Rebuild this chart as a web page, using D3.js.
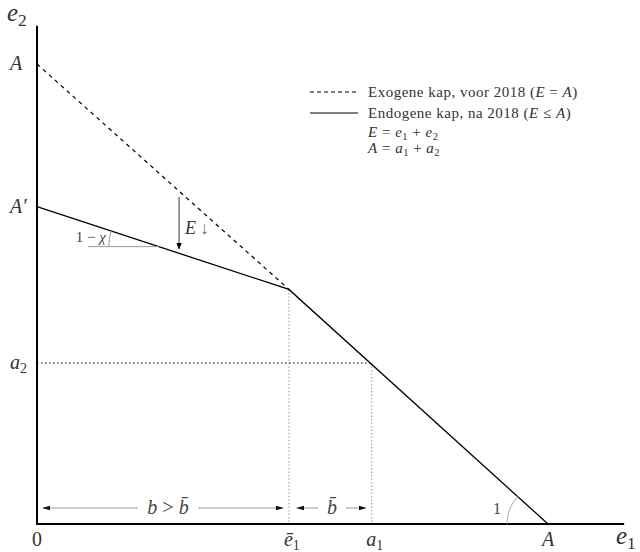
<!DOCTYPE html>
<html>
<head>
<meta charset="utf-8">
<script src="https://cdn.jsdelivr.net/npm/d3@7"></script>
<style>
  body { margin: 0; background: #fff; }
  svg text { font-family: "Liberation Serif", "DejaVu Serif", serif; }
</style>
</head>
<body>
<svg id="chart" width="640" height="552"></svg>
<script>
// data (units: A = 10)
var capA = 10;
var capAprime = 6.9;
var e1bar = 4.93;
var kinkY = 5.1;
var a1 = 6.55;
var a2 = 3.5;

var exoLine = [[0, capA], [e1bar, kinkY]];
var endoLine = [[0, capAprime], [e1bar, kinkY], [capA, 0]];

var xTickLabels = [
  {v: 0, main: "0", sub: "", italic: false},
  {v: e1bar, main: "ē", sub: "1", italic: true},
  {v: a1, main: "a", sub: "1", italic: true},
  {v: capA, main: "A", sub: "", italic: true}
];
var yTickLabels = [
  {v: capA, main: "A", sub: ""},
  {v: capAprime, main: "A′", sub: ""},
  {v: a2, main: "a", sub: "2"}
];

var svg = d3.select("#chart");

var x = d3.scaleLinear().domain([0, 10]).range([37, 548]);
var y = d3.scaleLinear().domain([0, 10]).range([524, 64]);
var xMax = 11.49, yMax = 10.83;

var line = d3.line()
  .x(function(d) { return x(d[0]); })
  .y(function(d) { return y(d[1]); });

// guide lines
svg.append("line")
  .attr("x1", x(e1bar)).attr("x2", x(e1bar))
  .attr("y1", y(kinkY)).attr("y2", y(0))
  .attr("stroke", "#999").attr("stroke-width", 1).attr("stroke-dasharray", "1.5,2");
svg.append("line")
  .attr("x1", x(a1)).attr("x2", x(a1))
  .attr("y1", y(a2)).attr("y2", y(0))
  .attr("stroke", "#999").attr("stroke-width", 1).attr("stroke-dasharray", "1.5,2");
svg.append("line")
  .attr("x1", x(0)).attr("x2", x(a1))
  .attr("y1", y(a2)).attr("y2", y(a2))
  .attr("stroke", "#000").attr("stroke-width", 1).attr("stroke-dasharray", "1.5,2.5");

// curves
svg.append("path").datum(exoLine)
  .attr("d", line).attr("fill", "none")
  .attr("stroke", "#000").attr("stroke-width", 1.2).attr("stroke-dasharray", "4,4");
svg.append("path").datum(endoLine)
  .attr("d", line).attr("fill", "none")
  .attr("stroke", "#000").attr("stroke-width", 1.3);

// axes
svg.append("line").attr("x1", x(0)).attr("x2", x(0)).attr("y1", y(0)).attr("y2", y(yMax))
  .attr("stroke", "#000").attr("stroke-width", 2);
svg.append("line").attr("x1", x(0) - 1).attr("x2", x(xMax)).attr("y1", y(0)).attr("y2", y(0))
  .attr("stroke", "#000").attr("stroke-width", 2);

// arrow markers
var defs = svg.append("defs");
defs.append("marker").attr("id", "headBlack")
  .attr("viewBox", "0 0 10 10").attr("refX", 9).attr("refY", 5)
  .attr("markerWidth", 7).attr("markerHeight", 7).attr("orient", "auto-start-reverse")
  .attr("markerUnits", "userSpaceOnUse")
  .append("path").attr("d", "M0,1 L10,5 L0,9 Z").attr("fill", "#000");
defs.append("marker").attr("id", "headGray")
  .attr("viewBox", "0 0 10 10").attr("refX", 9).attr("refY", 5)
  .attr("markerWidth", 8).attr("markerHeight", 8).attr("orient", "auto-start-reverse")
  .attr("markerUnits", "userSpaceOnUse")
  .append("path").attr("d", "M0,2 L10,5 L0,8 Z").attr("fill", "#111");

// E arrow
var eArrowX = 2.78;
svg.append("line")
  .attr("x1", x(eArrowX)).attr("x2", x(eArrowX))
  .attr("y1", y(7.11)).attr("y2", y(5.98))
  .attr("stroke", "#555").attr("stroke-width", 1.2)
  .attr("marker-end", "url(#headBlack)");
var eLab = svg.append("text").attr("x", x(eArrowX) + 6).attr("y", y(6.3)).attr("font-size", 18).attr("fill", "#333");
eLab.append("tspan").attr("font-style", "italic").text("E");
eLab.append("tspan").attr("dx", 4).attr("fill", "#777").text("↓");

// 1 - chi angle
var chiY = 6.03;
var chiX = (capAprime - chiY) / ((capAprime - kinkY) / e1bar);
svg.append("line")
  .attr("x1", x(1.0)).attr("x2", x(chiX))
  .attr("y1", y(chiY)).attr("y2", y(chiY))
  .attr("stroke", "#999").attr("stroke-width", 1);
var slopeAng = Math.atan2(y(kinkY) - y(capAprime), x(e1bar) - x(0));
var r1 = 50;
var cx1 = x(chiX), cy1 = y(chiY);
svg.append("path")
  .attr("d", "M" + (cx1 - r1) + "," + cy1 + " A" + r1 + "," + r1 + " 0 0,1 " +
    (cx1 - r1 * Math.cos(slopeAng)) + "," + (cy1 - r1 * Math.sin(slopeAng)))
  .attr("fill", "none").attr("stroke", "#999").attr("stroke-width", 1);
var chiLab = svg.append("text").attr("x", cx1 - r1 - 3).attr("y", cy1 - 5)
  .attr("text-anchor", "end").attr("font-size", 15).attr("fill", "#444");
chiLab.append("tspan").text("1 − ");
chiLab.append("tspan").attr("font-style", "italic").text("χ");

// angle 1 at A
var r2 = 41;
var cx2 = x(capA), cy2 = y(0);
var ang2 = Math.atan2(y(0) - y(kinkY), x(capA) - x(e1bar));
svg.append("path")
  .attr("d", "M" + (cx2 - r2) + "," + cy2 + " A" + r2 + "," + r2 + " 0 0,1 " +
    (cx2 - r2 * Math.cos(ang2)) + "," + (cy2 - r2 * Math.sin(ang2)))
  .attr("fill", "none").attr("stroke", "#aaa").attr("stroke-width", 1);
svg.append("text").attr("x", cx2 - r2 - 10).attr("y", cy2 - 10)
  .attr("text-anchor", "middle").attr("font-size", 16).attr("fill", "#444").text("1");

// b arrows
var bY = 508;
function bArrow(x0, x1, gap0, gap1) {
  svg.append("line").attr("x1", x0).attr("x2", gap0).attr("y1", bY).attr("y2", bY)
    .attr("stroke", "#999").attr("stroke-width", 1).attr("marker-start", "url(#headGray)");
  svg.append("line").attr("x1", gap1).attr("x2", x1).attr("y1", bY).attr("y2", bY)
    .attr("stroke", "#999").attr("stroke-width", 1).attr("marker-end", "url(#headGray)");
}
bArrow(x(0) + 6, x(e1bar) - 6, 138, 198);
bArrow(x(e1bar) + 8, x(a1) - 6, 318, 346);
var bLab1 = svg.append("text").attr("x", 168).attr("y", bY + 6)
  .attr("text-anchor", "middle").attr("font-size", 20).attr("fill", "#444");
bLab1.append("tspan").attr("font-style", "italic").text("b");
bLab1.append("tspan").text(" > ");
bLab1.append("tspan").attr("font-style", "italic").text("b̄");
svg.append("text").attr("x", 332).attr("y", bY + 6)
  .attr("text-anchor", "middle").attr("font-size", 20).attr("font-style", "italic")
  .attr("fill", "#444").text("b̄");

// tick labels
function subLabel(g, main, sub, size, italic) {
  var t = g.append("tspan").text(main);
  if (italic) t.attr("font-style", "italic");
  if (sub) g.append("tspan").attr("font-size", size * 0.7).attr("dy", size * 0.18).text(sub);
}
xTickLabels.forEach(function(d) {
  var t = svg.append("text").attr("x", x(d.v) + (d.sub ? 3 : 0)).attr("y", 546)
    .attr("text-anchor", "middle").attr("font-size", 20).attr("fill", "#333");
  subLabel(t, d.main, d.sub, 20, d.italic);
});
yTickLabels.forEach(function(d) {
  var t = svg.append("text").attr("x", 10).attr("y", y(d.v) + 6)
    .attr("font-size", 20).attr("fill", "#333");
  subLabel(t, d.main, d.sub, 20, true);
});
var e1Lab = svg.append("text").attr("x", 616).attr("y", 544).attr("font-size", 25).attr("fill", "#333");
subLabel(e1Lab, "e", "1", 25, true);
var e2Lab = svg.append("text").attr("x", 7).attr("y", 21).attr("font-size", 25).attr("fill", "#333");
subLabel(e2Lab, "e", "2", 25, true);

// legend
var legX = 310, legTx = 368;
var legend = svg.append("g").attr("font-size", 15).attr("letter-spacing", 0.5).attr("fill", "#333");
legend.append("line").attr("x1", legX).attr("x2", legX + 48).attr("y1", 92).attr("y2", 92)
  .attr("stroke", "#000").attr("stroke-width", 1).attr("stroke-dasharray", "4,3");
legend.append("line").attr("x1", legX).attr("x2", legX + 48).attr("y1", 113).attr("y2", 113)
  .attr("stroke", "#000").attr("stroke-width", 1.2);
var l1 = legend.append("text").attr("x", legTx).attr("y", 97);
l1.append("tspan").text("Exogene kap, voor 2018 (");
l1.append("tspan").attr("font-style", "italic").text("E");
l1.append("tspan").text(" = ");
l1.append("tspan").attr("font-style", "italic").text("A");
l1.append("tspan").text(")");
var l2 = legend.append("text").attr("x", legTx).attr("y", 118);
l2.append("tspan").text("Endogene kap, na 2018 (");
l2.append("tspan").attr("font-style", "italic").text("E");
l2.append("tspan").text(" ≤ ");
l2.append("tspan").attr("font-style", "italic").text("A");
l2.append("tspan").text(")");

var eqs = [
  [["E", true], [" = ", false], ["e", true], ["1", "sub"], [" + ", false], ["e", true], ["2", "sub"]],
  [["A", true], [" = ", false], ["a", true], ["1", "sub"], [" + ", false], ["a", true], ["2", "sub"]]
];
eqs.forEach(function(parts, i) {
  var t = legend.append("text").attr("x", legTx).attr("y", 137 + i * 16);
  var prevSub = false;
  parts.forEach(function(p) {
    var s = t.append("tspan").text(p[0]);
    if (p[1] === true) s.attr("font-style", "italic");
    if (p[1] === "sub") { s.attr("font-size", 10.5).attr("dy", 3); prevSub = true; }
    else if (prevSub) { s.attr("dy", -3); prevSub = false; }
  });
});
</script>
</body>
</html>
